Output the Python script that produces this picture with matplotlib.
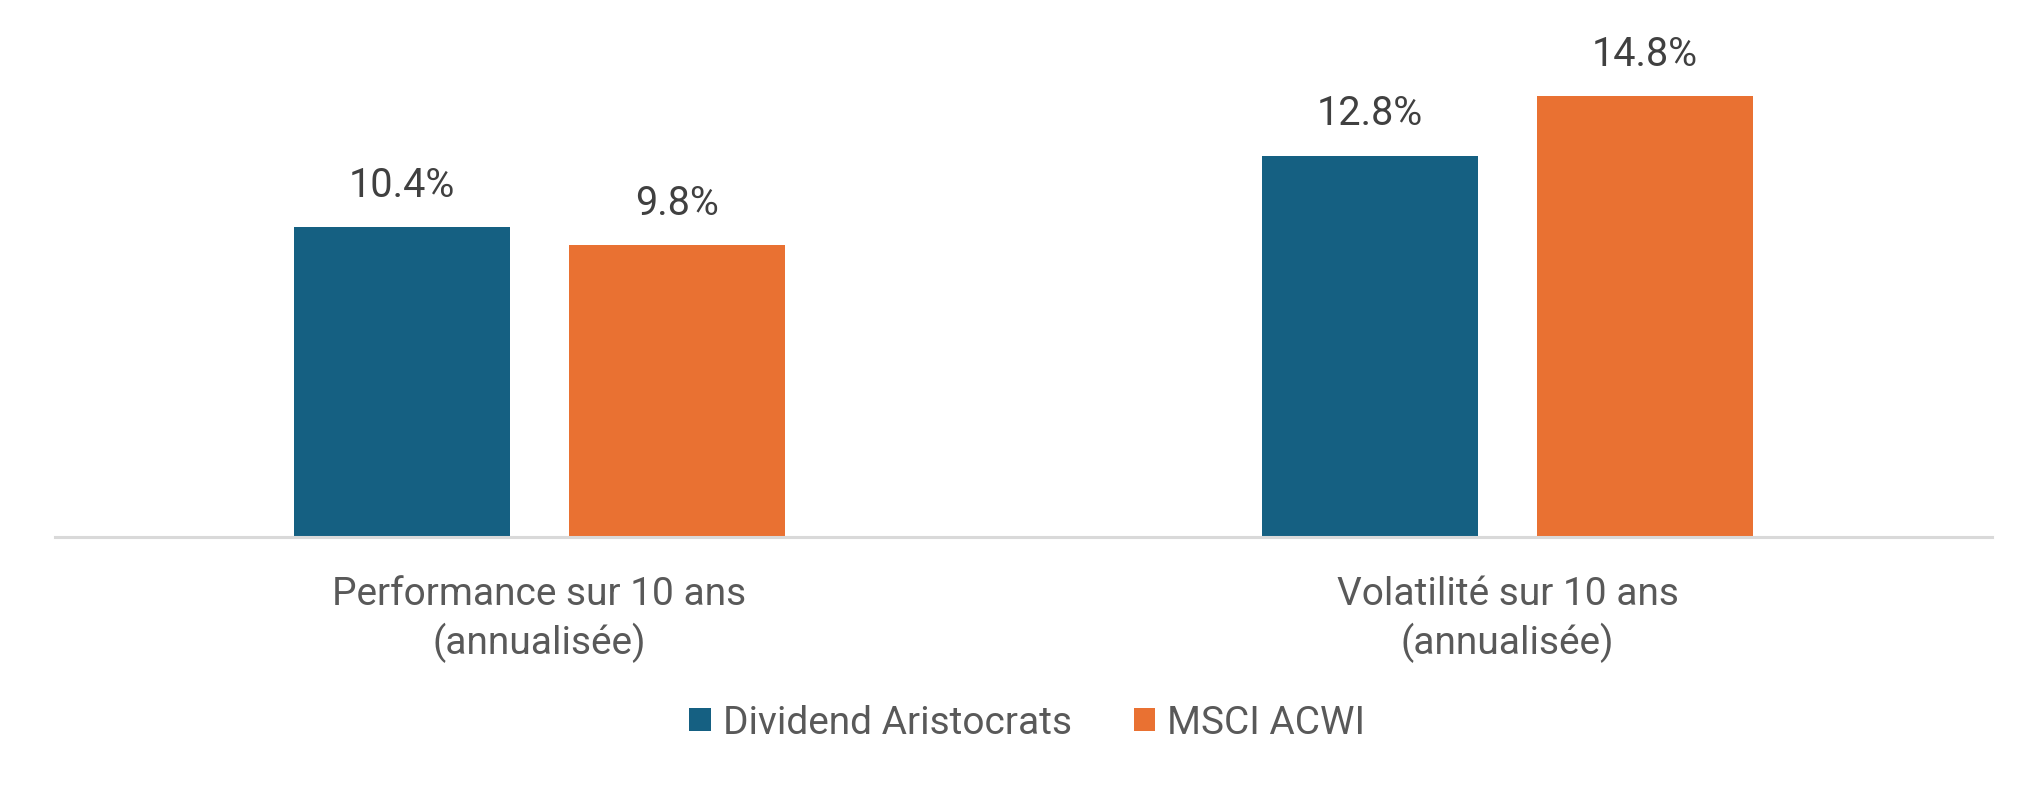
import matplotlib.pyplot as plt
import numpy as np

plt.rcParams["font.family"] = ["Roboto", "DejaVu Sans"]

# ── data ─────────────────────────────────────────────
categories = ["Performance sur 10 ans\n(annualisée)", "Volatilité sur 10 ans\n(annualisée)"]
series_names = ["Dividend Aristocrats", "MSCI ACWI"]
aristocrats = [10.4, 12.8]
acwi = [9.8, 14.8]

BLUE = "#156082"
ORANGE = "#E97132"

fig = plt.figure(figsize=(20.38, 7.91), dpi=100)
ax = fig.add_axes([0.027, 0.3211, 0.9504, 0.6587])

x = np.arange(len(categories))
w = 0.223
off = 0.142

b1 = ax.bar(x - off, aristocrats, w, color=BLUE, label=series_names[0])
b2 = ax.bar(x + off, acwi, w, color=ORANGE, label=series_names[1])

for bars, vals in [(b1, aristocrats), (b2, acwi)]:
    for rect, v in zip(bars, vals):
        ax.annotate(f"{v:.1f}%", (rect.get_x() + rect.get_width() / 2, v),
                    xytext=(0, 22), textcoords="offset points",
                    ha="center", va="baseline", fontsize=28.5, color="#404040")

ax.set_xlim(-0.5, 1.5)
ax.set_ylim(0, 17.5)
ax.set_xticks(x)
ax.set_xticklabels(categories, fontsize=28, color="#595959", linespacing=1.3)
ax.tick_params(axis="x", length=0, pad=28)
ax.set_yticks([])

for s in ["top", "right", "left"]:
    ax.spines[s].set_visible(False)
ax.spines["bottom"].set_color("#d9d9d9")
ax.spines["bottom"].set_linewidth(2.2)

fig.legend(handles=[b1, b2], labels=series_names, loc="center",
           bbox_to_anchor=(0.504, 1 - 723 / 791), ncol=2, frameon=False,
           fontsize=28, labelcolor="#595959", handlelength=0.55, handleheight=0.55,
           handletextpad=0.3, columnspacing=1.6)

fig.savefig("out.png", dpi=100)
